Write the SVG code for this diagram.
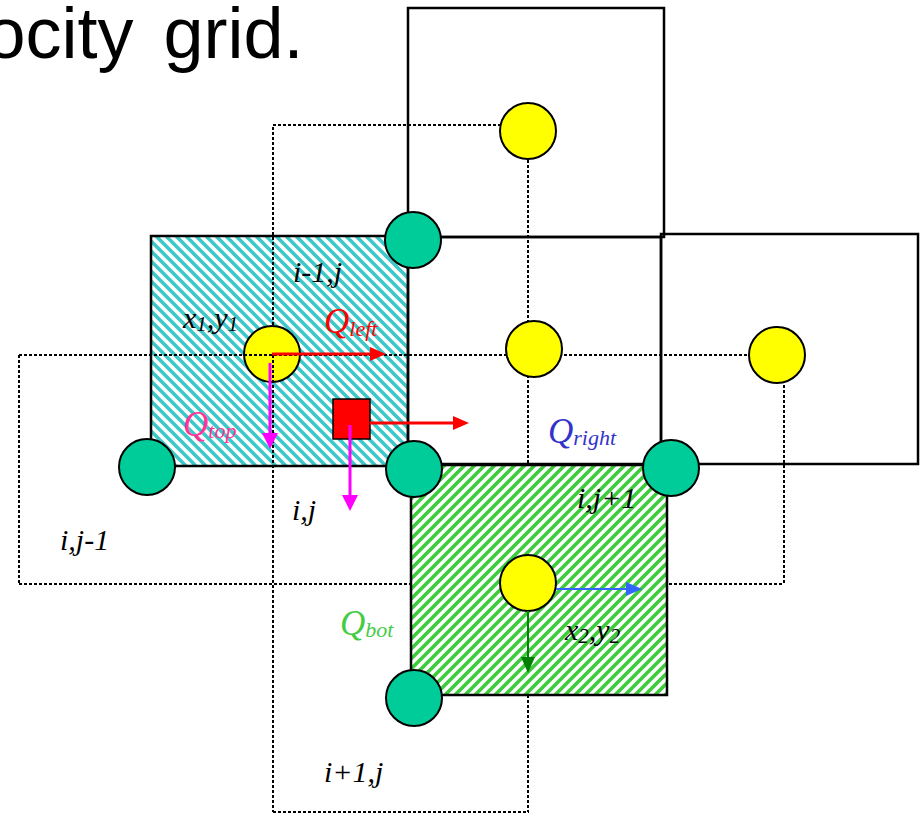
<svg xmlns="http://www.w3.org/2000/svg" width="923" height="815" viewBox="0 0 923 815">
<defs>
<pattern id="hatchCyan" patternUnits="userSpaceOnUse" width="10" height="10">
<rect width="10" height="10" fill="#ffffff"/>
<path d="M-3,7 L3,13 M0,0 L10,10 M7,-3 L13,3" stroke="#3cc8c8" stroke-width="3.6"/>
</pattern>
<pattern id="hatchGreen" patternUnits="userSpaceOnUse" width="10" height="10">
<rect width="10" height="10" fill="#ffffff"/>
<path d="M-3,3 L3,-3 M0,10 L10,0 M7,13 L13,7" stroke="#3ccc3c" stroke-width="3.6"/>
</pattern>
<marker id="ahRed" markerUnits="userSpaceOnUse" viewBox="0 0 16 14" refX="0" refY="7" markerWidth="16" markerHeight="14" orient="auto"><path d="M0,0 L16,7 L0,14 z" fill="#ff0000"/></marker>
<marker id="ahMag" markerUnits="userSpaceOnUse" viewBox="0 0 16 16" refX="0" refY="8" markerWidth="16" markerHeight="16" orient="auto"><path d="M0,0 L16,8 L0,16 z" fill="#ff00ff"/></marker>
<marker id="ahBlue" markerUnits="userSpaceOnUse" viewBox="0 0 16 14" refX="0" refY="7" markerWidth="16" markerHeight="14" orient="auto"><path d="M0,0 L16,7 L0,14 z" fill="#3366ff"/></marker>
<marker id="ahGreen" markerUnits="userSpaceOnUse" viewBox="0 0 16 14" refX="0" refY="7" markerWidth="16" markerHeight="14" orient="auto"><path d="M0,0 L16,7 L0,14 z" fill="#007f00"/></marker>
</defs>
<style>
.cell{fill:none;stroke:#000;stroke-width:2.5}
.dot{fill:none;stroke:#000;stroke-width:2;stroke-dasharray:3 2}
.vel{fill:#ffff00;stroke:#000;stroke-width:2}
.node{fill:#00cc99;stroke:#000;stroke-width:2}
.lbl{font-family:"Liberation Serif","Times New Roman",serif;font-style:italic;font-size:30px;fill:#000}
.q{font-family:"Liberation Serif","Times New Roman",serif;font-style:italic;font-size:35px}
.sub{font-size:22px}
.title{font-family:"Liberation Sans",Arial,sans-serif;font-size:72px;fill:#000}
</style>
<rect width="923" height="815" fill="#ffffff"/>
<text class="title" x="-14.6" y="58" word-spacing="10">ocity grid.</text>

<g id="cell-cyan"><rect x="151" y="236" width="257" height="230" fill="url(#hatchCyan)" stroke="#000" stroke-width="2.5"/></g>
<g id="vgrid-upper"><path class="dot" d="M273,355 V125 H528 V355"/></g>
<g id="vel-1"><circle class="vel" cx="272" cy="354" r="28"/></g>
<g id="vgrid-lower">
<path class="dot" d="M19,355 H784"/>
<path class="dot" d="M19,584 H784"/>
<path class="dot" d="M273,812 H529"/>
<path class="dot" d="M19,355 V584"/>
<path class="dot" d="M273,355 V812"/>
<path class="dot" d="M528,355 V812"/>
<path class="dot" d="M784,355 V584"/>
</g>
<g id="cell-top"><rect class="cell" x="408" y="8" width="256" height="229"/></g>
<g id="cell-mid"><rect class="cell" x="408" y="237" width="253" height="227"/></g>
<g id="cell-right"><rect class="cell" x="661" y="234" width="257" height="230"/></g>
<g id="cell-green"><rect x="411" y="465" width="256" height="230" fill="url(#hatchGreen)" stroke="#000" stroke-width="2.5"/></g>

<g id="vel-top"><circle class="vel" cx="528" cy="131" r="28"/></g>
<g id="vel-mid"><circle class="vel" cx="534" cy="349" r="28"/></g>
<g id="vel-right"><circle class="vel" cx="777" cy="355" r="28"/></g>
<g id="vel-2"><circle class="vel" cx="528" cy="583" r="28"/></g>
<g id="node-a"><circle class="node" cx="413" cy="240" r="28"/></g>
<g id="node-b"><circle class="node" cx="147" cy="467" r="28"/></g>
<g id="node-c"><circle class="node" cx="414" cy="469" r="28"/></g>
<g id="node-d"><circle class="node" cx="671" cy="468" r="28"/></g>
<g id="node-e"><circle class="node" cx="414" cy="698" r="28"/></g>
<g id="flux-point"><rect x="333" y="399" width="37" height="40" fill="#ff0000" stroke="#000" stroke-width="1.5"/></g>

<g id="connectors" fill="none">
<line x1="272" y1="354" x2="370" y2="354" stroke="#ff0000" stroke-width="3" marker-end="url(#ahRed)"/>
<line x1="270" y1="363" x2="270" y2="433" stroke="#ff00ff" stroke-width="3" marker-end="url(#ahMag)"/>
<line x1="370" y1="423" x2="453" y2="423" stroke="#ff0000" stroke-width="3" marker-end="url(#ahRed)"/>
<line x1="350" y1="425" x2="350" y2="495" stroke="#ff00ff" stroke-width="3" marker-end="url(#ahMag)"/>
<line x1="556" y1="589" x2="626" y2="589" stroke="#3366ff" stroke-width="2" marker-end="url(#ahBlue)"/>
<line x1="528" y1="611" x2="528" y2="657" stroke="#007f00" stroke-width="2" marker-end="url(#ahGreen)"/>
</g>

<g id="labels">
<text class="lbl" x="293" y="282">i-1,j</text>
<text class="lbl" x="183" y="328" font-size="32">x<tspan font-size="21" dy="3">1</tspan><tspan dy="-3">,y</tspan><tspan font-size="21" dy="3">1</tspan></text>
<text class="q" x="324" y="333" fill="#ff0000">Q<tspan class="sub" dy="3">left</tspan></text>
<text class="q" x="183" y="436" fill="#ff3399">Q<tspan class="sub" dy="2">top</tspan></text>
<text class="q" x="548" y="443" fill="#3333cc">Q<tspan class="sub" dy="2">right</tspan></text>
<text class="lbl" x="292" y="520">i,j</text>
<text class="lbl" x="577" y="508">i,j+1</text>
<text class="lbl" x="60" y="550">i,j-1</text>
<text class="q" x="340" y="635" fill="#44cc44">Q<tspan class="sub" dy="2">bot</tspan></text>
<text class="lbl" x="565" y="640" font-size="32">x<tspan font-size="21" dy="3">2</tspan><tspan dy="-3">,y</tspan><tspan font-size="21" dy="3">2</tspan></text>
<text class="lbl" x="324" y="782">i+1,j</text>
</g>
</svg>
